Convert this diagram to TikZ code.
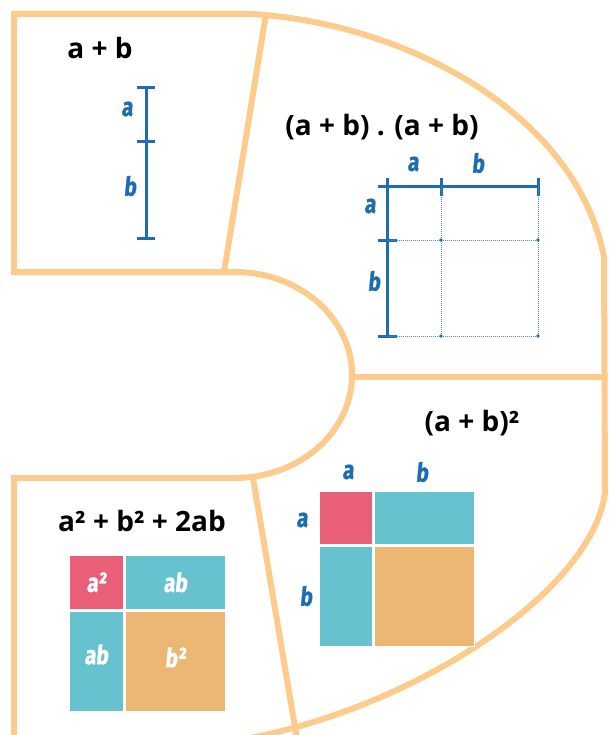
\documentclass[tikz,border=0pt]{standalone}
\usepackage{fontspec}
\setmainfont{Open Sans}
\newfontfamily\handfont{Fira Sans}[FakeStretch=0.8,FakeSlant=0.1,FakeBold=1.2]
\usepackage{xcolor}
\usepackage{tikz}
\usetikzlibrary{positioning}

\definecolor{rim}{RGB}{253,203,140}
\definecolor{penblue}{RGB}{30,108,178}
\definecolor{pinkc}{RGB}{234,95,120}
\definecolor{cyanc}{RGB}{102,194,207}
\definecolor{orangec}{RGB}{236,182,115}

\begin{document}
\begin{tikzpicture}[x=1pt,y=-1pt,
  every node/.style={font=\bfseries\fontsize{28}{32}\selectfont},
  rimline/.style={draw=rim,line width=6pt,line join=miter},
  ruler/.style={draw=penblue,line width=3pt},
  tickmark/.style={draw=penblue,line width=3pt},
  guide/.style={draw=penblue!80,line width=0.8pt,dash pattern=on 1pt off 1pt},
  lbl/.style={text=penblue,font=\handfont\bfseries\fontsize{26}{28}\selectfont},
  cell/.style={draw=white,line width=1.5pt,anchor=north west,inner sep=0pt,
    text=white,font=\handfont\bfseries\fontsize{26}{28}\selectfont}]
  \useasboundingbox (0,0) rectangle (609,735);
  \clip (0,0) rectangle (609,735);
  % frame
  \draw[rimline] (14,745) -- (14,478) -- (235,478)
    arc[start angle=90,end angle=-90,x radius=117,y radius=103]
    -- (14,272) -- (14,14) -- (250,14)
    .. controls (400,22) and (575,110) .. (604,257)
    -- (605,493) .. controls (592,590) and (420,705) .. (250,738);
  \draw[rimline] (266,14) -- (224,272);
  \draw[rimline] (352,377) -- (605,377);
  \draw[rimline] (253,478) -- (298,745);
  % titles
  \node (sumAB) at (100,48) {a + b};
  \node (prodAB) at (382,127) {(a + b) . (a + b)};
  \node (sqAB) at (472,423) {(a + b)²};
  \node (expAB) at (142,521) {a² + b² + 2ab};
  % segment a + b
  \draw[ruler] (146,88) -- (146,238);
  \foreach \y in {88,142,238} \draw[tickmark] (137,\y) -- (155,\y);
  \node[lbl] (segA) at (127,109) {a};
  \node[lbl] (segB) at (130,186) {b};
  % product grid
  \draw[ruler] (387,187) -- (538,187);
  \draw[ruler] (387,187) -- (387,336);
  \foreach \x in {387,441,538} \draw[tickmark] (\x,178) -- (\x,196);
  \foreach \y in {187,240,336} \draw[tickmark] (378,\y) -- (397,\y);
  \draw[guide] (441,187) -- (441,336);
  \draw[guide] (538,187) -- (538,336);
  \draw[guide] (387,240) -- (538,240);
  \draw[guide] (387,336) -- (538,336);
  \foreach \p in {(441,240),(441,336),(538,240),(538,336)} \fill[penblue] \p circle (1.8);
  \node[lbl] (gridTA) at (413,164) {a};
  \node[lbl] (gridTB) at (478,163) {b};
  \node[lbl] (gridLA) at (370,206) {a};
  \node[lbl] (gridLB) at (374,281) {b};
  % square (a + b)^2
  \node[cell,fill=pinkc,minimum width=54pt,minimum height=54pt] (sqAA) at (318,490) {};
  \node[cell,fill=cyanc,minimum width=100pt,minimum height=54pt,right=0pt of sqAA] (sqAB2) {};
  \node[cell,fill=cyanc,minimum width=54pt,minimum height=100pt,below=0pt of sqAA] (sqBA) {};
  \node[cell,fill=orangec,minimum width=100pt,minimum height=100pt,below=0pt of sqAB2] (sqBB) {};
  \node[lbl] (sqTA) at (348,472) {a};
  \node[lbl] (sqTB) at (422,472) {b};
  \node[lbl] (sqLA) at (302,520) {a};
  \node[lbl] (sqLB) at (306,596) {b};
  % expanded square
  \node[cell,fill=pinkc,minimum width=55pt,minimum height=55pt] (exAA) at (68,554) {a²};
  \node[cell,fill=cyanc,minimum width=100pt,minimum height=55pt,right=0pt of exAA] (exAB) {ab};
  \node[cell,fill=cyanc,minimum width=55pt,minimum height=100pt,below=0pt of exAA,text depth=14pt] (exBA) {ab};
  \node[cell,fill=orangec,minimum width=100pt,minimum height=100pt,below=0pt of exAB,text depth=8pt] (exBB) {b²};
\end{tikzpicture}
\end{document}
